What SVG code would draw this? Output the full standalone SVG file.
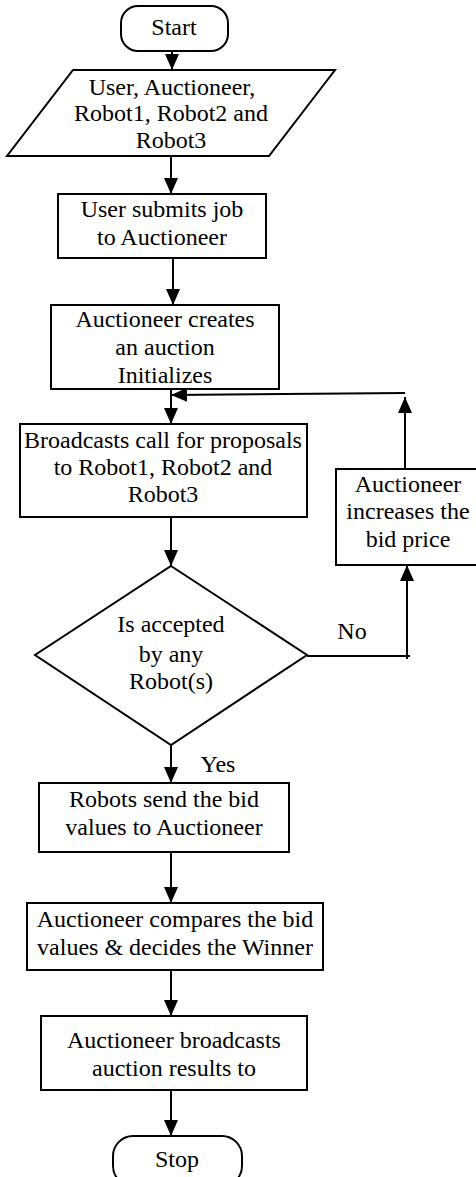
<svg xmlns="http://www.w3.org/2000/svg" width="476" height="1177" viewBox="0 0 476 1177">
<style>
.s{fill:#fff;stroke:#000;stroke-width:2}
.t{font-family:'Liberation Serif','Times New Roman',serif;font-size:24px;fill:#000;text-anchor:middle}
.c{fill:none;stroke:#000;stroke-width:2}
</style>
<defs>
<marker id="ah" markerUnits="userSpaceOnUse" markerWidth="16" markerHeight="14" refX="16" refY="7" orient="auto">
<path d="M0,0 L16,7 L0,14 Z" fill="#000"/>
</marker>
</defs>
<rect width="476" height="1177" fill="#fff"/>
<g id="connectors">
<line class="c" x1="172" y1="51" x2="172" y2="70" marker-end="url(#ah)"/>
<line class="c" x1="171" y1="156" x2="171" y2="194" marker-end="url(#ah)"/>
<line class="c" x1="173" y1="258" x2="173" y2="305" marker-end="url(#ah)"/>
<line class="c" x1="171" y1="389" x2="171" y2="424" marker-end="url(#ah)"/>
<line class="c" x1="171" y1="517" x2="171" y2="566" marker-end="url(#ah)"/>
<polyline class="c" points="307,656 410,656"/>
<line class="c" x1="407" y1="659" x2="407" y2="565" marker-end="url(#ah)"/>
<line class="c" x1="405" y1="469" x2="405" y2="397" marker-end="url(#ah)"/>
<line class="c" x1="405" y1="393" x2="171" y2="395" marker-end="url(#ah)"/>
<line class="c" x1="171" y1="745" x2="171" y2="783" marker-end="url(#ah)"/>
<line class="c" x1="171" y1="852" x2="171" y2="903" marker-end="url(#ah)"/>
<line class="c" x1="171" y1="970" x2="171" y2="1016" marker-end="url(#ah)"/>
<line class="c" x1="171" y1="1090" x2="171" y2="1136" marker-end="url(#ah)"/>
<text class="t" x="352" y="639">No</text>
<text class="t" x="218" y="772">Yes</text>
</g>
<g id="start">
<rect class="s" x="121" y="6" width="107" height="45" rx="17" ry="17"/>
<text class="t" x="174" y="35">Start</text>
</g>
<g id="input">
<polygon class="s" points="73,70 335,70 269,156 7,156"/>
<text class="t" x="172" y="95">User, Auctioneer,</text>
<text class="t" x="171" y="121">Robot1, Robot2 and</text>
<text class="t" x="171" y="148">Robot3</text>
</g>
<g id="submit">
<rect class="s" x="58" y="194" width="208" height="64"/>
<text class="t" x="162" y="217">User submits job</text>
<text class="t" x="162" y="245">to Auctioneer</text>
</g>
<g id="create">
<rect class="s" x="51" y="305" width="228" height="84"/>
<text class="t" x="165" y="327">Auctioneer creates</text>
<text class="t" x="165" y="355">an auction</text>
<text class="t" x="165" y="383">Initializes</text>
</g>
<g id="broadcast">
<rect class="s" x="20" y="424" width="287" height="93"/>
<text class="t" x="163" y="448">Broadcasts call for proposals</text>
<text class="t" x="163" y="475">to Robot1, Robot2 and</text>
<text class="t" x="163" y="502">Robot3</text>
</g>
<g id="increase">
<rect class="s" x="336" y="469" width="145" height="96"/>
<text class="t" x="408" y="492">Auctioneer</text>
<text class="t" x="408" y="519">increases the</text>
<text class="t" x="408" y="547">bid price</text>
</g>
<g id="decision">
<polygon class="s" points="171,566 307,655 171,745 35,655"/>
<text class="t" x="171" y="632">Is accepted</text>
<text class="t" x="171" y="662">by any</text>
<text class="t" x="171" y="689">Robot(s)</text>
</g>
<g id="send">
<rect class="s" x="39" y="783" width="250" height="69"/>
<text class="t" x="164" y="807">Robots send the bid</text>
<text class="t" x="164" y="835">values to Auctioneer</text>
</g>
<g id="compare">
<rect class="s" x="27" y="903" width="296" height="67"/>
<text class="t" x="175" y="927">Auctioneer compares the bid</text>
<text class="t" x="175" y="955">values &amp; decides the Winner</text>
</g>
<g id="results">
<rect class="s" x="41" y="1016" width="266" height="74"/>
<text class="t" x="174" y="1048">Auctioneer broadcasts</text>
<text class="t" x="174" y="1076">auction results to</text>
</g>
<g id="stop">
<rect class="s" x="113" y="1136" width="129" height="50" rx="20" ry="20"/>
<text class="t" x="177" y="1167">Stop</text>
</g>
</svg>
